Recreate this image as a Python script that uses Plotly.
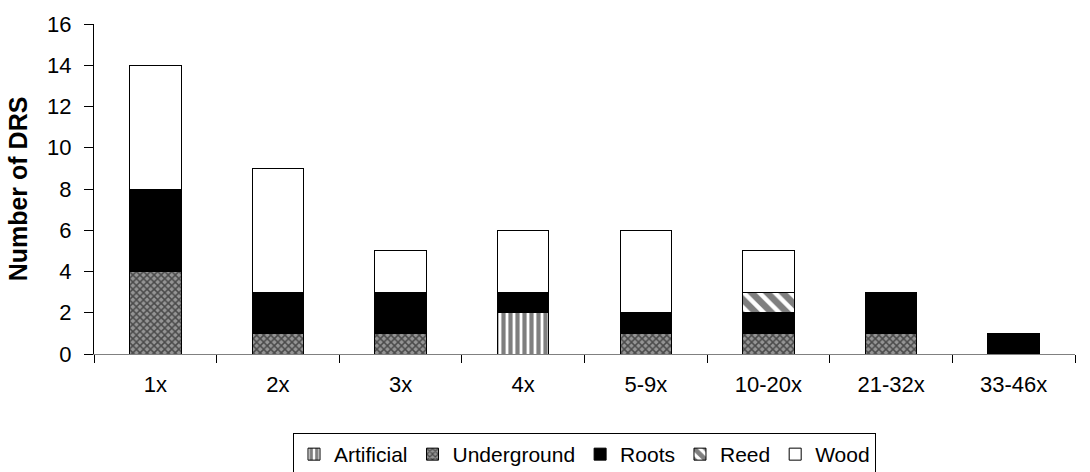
import plotly.graph_objects as go

categories = ["1x", "2x", "3x", "4x", "5-9x", "10-20x", "21-32x", "33-46x"]
artificial = [0, 0, 0, 2, 0, 0, 0, 0]
underground = [4, 1, 1, 0, 1, 1, 1, 0]
roots = [4, 2, 2, 1, 1, 1, 2, 1]
reed = [0, 0, 0, 0, 0, 1, 0, 0]
wood = [6, 6, 2, 3, 4, 2, 0, 0]

series = [
    ("Artificial", artificial, dict(color="white", pattern=dict(shape="|", fgcolor="black", bgcolor="white", size=7, solidity=0.6))),
    ("Underground", underground, dict(color="#505050", pattern=dict(shape="x", fgcolor="black", bgcolor="#959595", size=5, solidity=0.5))),
    ("Roots", roots, dict(color="black")),
    ("Reed", reed, dict(color="white", pattern=dict(shape="\\", fgcolor="black", bgcolor="white", size=11, solidity=0.6))),
    ("Wood", wood, dict(color="white")),
]

fig = go.Figure()
for name, vals, mk in series:
    mk = dict(mk)
    mk["line"] = dict(color="black", width=1)
    fig.add_trace(go.Bar(name=name, x=categories, y=vals, marker=mk))

font = "Liberation Sans, Arial, sans-serif"
fig.update_layout(
    barmode="stack",
    bargap=0.58,
    width=1090, height=472,
    margin=dict(l=94, r=15, t=18, b=118),
    plot_bgcolor="white", paper_bgcolor="white",
    font=dict(family=font, size=22, color="black"),
    showlegend=True,
    legend=dict(
        orientation="h", xref="paper", yref="container",
        x=0.5, y=1 - 433 / 472, xanchor="center", yanchor="top",
        bordercolor="black", borderwidth=1, font=dict(size=21),
        traceorder="normal", itemwidth=30,
    ),
    xaxis=dict(
        showline=True, linecolor="#808080", linewidth=1,
        ticks="outside", tickson="boundaries", ticklen=8, tickcolor="black",
        ticklabelstandoff=11,
    ),
    yaxis=dict(
        range=[0, 16], dtick=2, showline=True, linecolor="black", linewidth=1,
        ticks="outside", ticklen=9, tickcolor="black", showgrid=False, zeroline=False,
        ticklabelstandoff=8,
        title=dict(text="<b>Number of DRS</b>", font=dict(size=25), standoff=12),
    ),
)
fig.write_html("out.html")
